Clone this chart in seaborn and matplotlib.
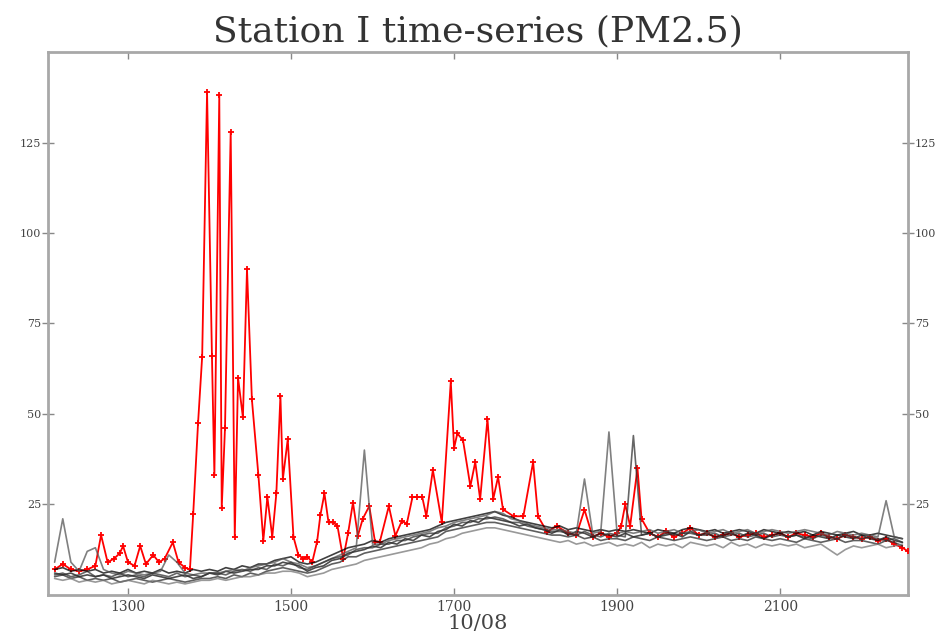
import numpy as np
import pandas as pd
import matplotlib
matplotlib.use("Agg")
import matplotlib.pyplot as plt
import seaborn as sns

# sample clock for the black (other stations) traces, 10-unit steps 1210..2250
times = list(range(1210, 2251, 10))

black_1 = [7, 7.5, 6.5, 7, 6.5, 7, 6, 6.5, 6, 7,
           6, 6.5, 6, 7, 6, 6.5, 6, 7, 6.5, 7,
           6.5, 7.5, 7, 8, 7.5, 8.5, 8.5, 9.5, 10, 10.5,
           9, 8.5, 9, 10, 11, 12, 13, 13.5, 14, 15,
           14.5, 15.5, 16, 16.5, 17, 17.5, 18, 19, 20, 20.5,
           21, 21.5, 22, 22.5, 23, 22, 21.5, 20.5, 20, 19.5,
           19, 18.5, 19, 18, 18.5, 18, 17.5, 18, 17.5, 18,
           17.5, 18, 17.5, 17, 18, 17.5, 17, 18, 18.5, 18,
           17.5, 18, 17, 17.5, 18, 17.5, 17, 18, 17.5, 17,
           17.5, 17, 17.5, 16.5, 17.5, 17, 16.5, 17, 17.5, 16.5,
           16.5, 17, 16.5, 16, 15.5]
black_2 = [6, 5.5, 6, 5, 5.5, 5, 5.5, 4.5, 5, 5.5,
           5, 4.5, 5.5, 5, 4.5, 5, 5.5, 4.5, 5, 6,
           5.5, 6.5, 6, 6.5, 7, 7, 8, 8, 9, 8.5,
           8, 6.5, 7.5, 8, 9.5, 10, 11.5, 12, 12.5, 13.5,
           13, 14.5, 14, 15.5, 15, 16.5, 16, 17.5, 18, 19.5,
           19, 20.5, 20, 21.5, 21, 20.5, 20, 19, 19.5, 18.5,
           18, 17, 18, 16.5, 17.5, 17, 16, 17, 16.5, 16,
           17, 16, 16.5, 17, 16, 16.5, 17, 16, 17.5, 16.5,
           17, 16, 16.5, 17, 16, 17, 16.5, 15.5, 16.5, 17,
           16, 16.5, 15.5, 16.5, 16, 15.5, 16.5, 16, 15.5, 16.5,
           15.5, 15, 16, 15, 14.5]
black_3 = [5, 5.5, 4.5, 5, 4, 4.5, 4, 4.5, 3.5, 4,
           4.5, 4, 3.5, 4, 4.5, 4, 3.5, 4, 4.5, 4.5,
           5, 4.5, 5.5, 5, 6, 5.5, 6.5, 7, 7.5, 7,
           6.5, 6, 6.5, 7.5, 8.5, 9, 10.5, 10.5, 11.5, 12,
           12.5, 13, 13.5, 14, 14.5, 15, 15.5, 16, 17.5, 18,
           18.5, 19, 19.5, 20, 20, 19.5, 19, 18.5, 18, 17.5,
           17, 16.5, 16.5, 16, 16.5, 15.5, 16, 15, 15.5, 15.5,
           15, 16, 15.5, 15, 16, 15.5, 15, 15.5, 16, 15.5,
           15, 15.5, 16, 15, 15.5, 15, 16, 15.5, 15, 15.5,
           15, 14.5, 15.5, 15, 14.5, 15, 15.5, 14.5, 15, 15,
           14.5, 14, 15, 14.5, 13.5]
black_4 = [4.5, 4, 4.5, 3.5, 4, 3.5, 4, 3, 3.5, 4,
           3.5, 3, 4, 3.5, 3, 3.5, 3, 3.5, 4, 4,
           4.5, 4, 4.5, 5, 5, 5.5, 6, 6, 6.5, 6.5,
           6, 5, 5.5, 6, 7, 7.5, 8, 8.5, 9.5, 10,
           10.5, 11, 11.5, 12, 12.5, 13, 14, 14.5, 15.5, 16,
           17, 17.5, 18, 18.5, 18.5, 18, 17.5, 17, 16.5, 16,
           15.5, 15, 14.5, 15, 14, 14.5, 13.5, 14, 14.5, 13.5,
           14, 13.5, 14.5, 13, 14, 13.5, 14, 13, 14.5, 14,
           13.5, 14, 13, 14.5, 13.5, 14, 13, 14, 13.5, 14,
           13.5, 14, 13, 13.5, 14, 12.5, 11, 12.5, 13.5, 13,
           13.5, 14, 13, 13.5, 14]
black_5 = [9, 21, 9, 6.5, 12, 13, 7, 6, 5.5, 6.5,
           6, 5.5, 6, 6.5, 11, 9, 6, 5.5, 6, 6,
           6, 6.5, 7, 6.5, 7.5, 8, 8.5, 9, 10, 9,
           8.5, 7.5, 8, 9, 10, 11, 12, 13, 40, 14,
           14, 15, 15.5, 16, 16.5, 17, 17.5, 18.5, 19, 20,
           20.5, 21, 21.5, 22, 23, 22.5, 21, 20.5, 19.5, 19,
           18.5, 18, 18, 17.5, 17, 32, 17, 17.5, 45, 17,
           17.5, 17, 17.5, 18, 17, 17.5, 18, 17, 17.5, 18,
           17, 17.5, 18, 17, 17.5, 18, 17, 17.5, 18, 17.5,
           17, 17.5, 18, 17.5, 17, 16.5, 17.5, 17, 16.5, 17,
           16.5, 16, 26, 16, 15.5]
black_6 = [5.5, 6, 5, 5.5, 6.5, 5, 5.5, 5, 6, 5,
           5.5, 5, 6, 5.5, 5, 6, 5, 5.5, 5, 6,
           6, 5.5, 6.5, 7, 6.5, 7.5, 7, 8.5, 8, 9,
           7.5, 7, 8, 9, 10, 10.5, 11, 12.5, 13, 13,
           14, 14, 15, 15, 16, 16.5, 17, 17, 18.5, 19,
           20, 20, 21, 21, 21.5, 21, 20, 20, 19, 18.5,
           18, 17.5, 17.5, 17, 16.5, 17.5, 16.5, 16, 17, 16.5,
           16, 44, 16.5, 17, 16, 17, 16.5, 17, 17, 16.5,
           16.5, 17, 16, 16.5, 17, 16, 16.5, 17, 16, 16.5,
           16, 16.5, 16, 15.5, 16.5, 16, 15.5, 16.5, 16, 15.5,
           16, 15.5, 15, 15.5, 14.5]

# Station I (red trace)
red_times = [1210, 1220, 1230, 1240, 1250, 1260, 1267, 1275, 1283, 1290,
             1294, 1300, 1308, 1315, 1322, 1331, 1338, 1345, 1355, 1362,
             1370, 1376, 1380, 1386, 1391, 1397, 1403, 1406, 1412, 1415,
             1419, 1426, 1431, 1435, 1441, 1446, 1452, 1460, 1466, 1471,
             1477, 1482, 1487, 1490, 1496, 1503, 1509, 1515, 1520, 1526,
             1532, 1536, 1541, 1546, 1552, 1557, 1564, 1570, 1576, 1582,
             1588, 1596, 1603, 1609, 1620, 1628, 1636, 1642, 1649, 1655,
             1661, 1666, 1674, 1685, 1696, 1700, 1704, 1711, 1720, 1726,
             1732, 1741, 1748, 1754, 1760, 1773, 1785, 1797, 1803, 1814,
             1826, 1840, 1850, 1860, 1870, 1880, 1890, 1900, 1905, 1910,
             1916, 1925, 1930, 1940, 1950, 1960, 1970, 1980, 1990, 2000,
             2010, 2020, 2030, 2040, 2050, 2060, 2070, 2080, 2090, 2100,
             2110, 2120, 2130, 2140, 2150, 2160, 2170, 2180, 2190, 2200,
             2210, 2220, 2230, 2240, 2250, 2257]
red_vals = [7, 8.5, 7, 6.5, 7, 8, 16.5, 9, 10, 11.5,
            13.5, 9, 8, 13.5, 8.5, 11, 9, 10, 14.5, 9,
            7.5, 7, 22.3, 47.6, 65.8, 139, 66, 33, 138, 24,
            46, 128, 16, 60, 49, 90, 54, 33, 15, 27,
            16, 28, 55, 32, 43, 16, 11, 10, 10.5, 9,
            14.7, 22, 28, 20, 20, 19, 10, 17, 25.5, 16.3,
            21, 24.5, 14.7, 14.7, 24.5, 16.3, 20.4, 19.6, 27, 27,
            27, 21.7, 34.5, 20, 59, 40.5, 44.6, 42.7, 30, 36.7,
            26.4, 48.6, 26.4, 32.6, 23.6, 21.7, 21.7, 36.7, 21.7, 17.4,
            19, 17, 16.5, 23.5, 16, 17, 16, 17, 19, 25,
            19, 35, 21, 17, 16, 17.5, 16, 17, 18.5, 16.5,
            17, 16, 16.5, 17, 16, 16.5, 17, 16, 16.5, 17,
            16, 17, 16.5, 16, 17, 16, 15.5, 16.5, 16, 15.5,
            16, 15, 15.5, 14, 13, 12]

x_ticks = [1300, 1500, 1700, 1900, 2100]
y_ticks = [25, 50, 75, 100, 125]

sns.set_style("white")
plt.rcParams['font.family'] = ['DejaVu Serif']

fig = plt.figure(figsize=(9.43, 6.43), dpi=100)
ax = fig.add_axes([0.051, 0.075, 0.912, 0.844])

sns.lineplot(x=red_times, y=red_vals, ax=ax, color='#ff0000', linewidth=1.3,
             marker='+', markersize=4, markeredgewidth=1.3,
             markeredgecolor='#ff0000', zorder=3)

# other stations, drawn over the red baseline like in the original
blacks = [black_1, black_2, black_3, black_4, black_5, black_6]
shades = ['#000000', '#111111', '#2a2a2a', '#777777', '#555555', '#333333']
for vals, c in zip(blacks, shades):
    sns.lineplot(x=times, y=vals, ax=ax, color=c, linewidth=1.2, alpha=0.75, zorder=4)

ax.set_xlim(1202, 2257)
ax.set_ylim(0, 150)
ax.set_xticks(x_ticks)
ax.set_xticklabels([str(t) for t in x_ticks], fontsize=10, color='#444444')
ax.set_yticks(y_ticks)
ax.set_yticklabels([str(t) for t in y_ticks], fontsize=8, color='#444444')
ax.tick_params(axis='y', direction='inout', length=8, width=1, color='#888888',
               left=True, right=True, labelleft=True, labelright=True, pad=1)
ax.tick_params(axis='x', direction='in', length=5, width=1, color='#888888',
               bottom=True, top=True, pad=4)
for sp in ax.spines.values():
    sp.set_color('#a8a8a8')
    sp.set_linewidth(2)

ax.set_xlabel('10/08', fontsize=15, color='#444444', labelpad=0)
ax.set_title('Station I time-series (PM2.5)', fontsize=26, color='#333333', pad=8)

fig.savefig('out.png', dpi=100)
